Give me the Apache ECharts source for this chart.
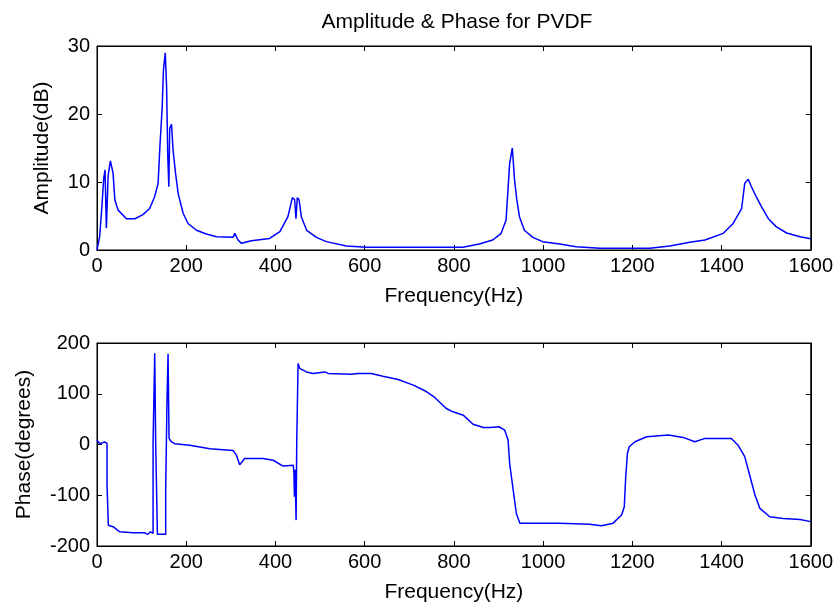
<!DOCTYPE html>
<html><head><meta charset="utf-8">
<script src="https://cdn.jsdelivr.net/npm/echarts@6/dist/echarts.min.js"></script>
<style>html,body{margin:0;padding:0;background:#fff}#c{width:836px;height:610px}</style>
</head><body><div id="c"></div>
<script>
const titleText = 'Amplitude & Phase for PVDF';
const xName = 'Frequency(Hz)';
const ampName = 'Amplitude(dB)';
const phaseName = 'Phase(degrees)';

const ampFreq = [0,6,11,15,18,21,25,30,36,40,47,66,85,103,118,129,137,141,146,149,153,156,158.5,161,163,167,170.5,176,182,193,204,223,245,268,305,309,316,324,346,387,410,428,438,443,446,449,453,458,470,492,514,559,604,708,820,857,887,906,917,925,931,936,941,947,958,977,999,1037,1074,1127,1239,1284,1329,1363,1404,1426,1445,1452,1460,1467,1478,1490,1505,1523,1546,1576,1600];
const amp = [0,2.0,6.4,10.5,11.8,3.2,11,13.1,11.3,7.4,5.9,4.6,4.6,5.2,6.1,7.8,9.8,15.2,20.8,26.5,29,24,14.2,9.3,17.9,18.5,14.7,11.3,8.3,5.4,3.9,2.9,2.35,1.96,1.86,2.45,1.47,0.98,1.37,1.7,2.7,4.9,7.7,7.4,4.6,7.7,7.4,4.9,2.9,1.86,1.23,0.59,0.39,0.39,0.39,0.88,1.47,2.45,4.4,12.7,15,10.3,7.4,4.9,2.9,1.86,1.23,0.88,0.49,0.25,0.25,0.59,1.13,1.47,2.45,3.9,6.1,9.8,10.4,9.3,7.8,6.3,4.6,3.4,2.5,1.96,1.67];

const phaseFreq = [0,2.3,6,17,19.5,22.5,22.5,25.5,25.5,36,51,81,107,114,120,125.7,125.7,129.4,129.4,131.6,131.6,135.4,135.4,154,154,157,157,159.3,159.3,161.5,161.5,167,174,208,253,305,312.5,320,331,372,395,417,440,441.5,442.6,444,446.3,447.8,450.8,454.5,469.5,484.5,511,518,570,585,615,641,675,709,735,757,783,798,821,843,866,881,901,914,921.5,925,933,940,948,1037,1104,1131,1157,1176,1182,1185,1189,1193,1206,1232,1281,1314,1340,1363,1422,1437,1452,1464,1475,1486,1508,1538,1576,1600];
const phase = [8.7,12,1.6,5,8.7,2,-80,-83,-159,-162,-172,-174,-174,-177,-172,-175,2,2,180,180,0,0,-177,-177,-86,-86,91,94,179,179,12,5,1.6,-1.7,-8.3,-11.6,-21,-40,-27.5,-27.5,-31,-42.6,-41,-57,-103,-50,-149,8.7,159.5,150,143,140,143,140,138.6,140,140,134.6,128,117,106,92.7,71,64.4,57.8,40,33.6,33.6,35,28.3,8.7,-37,-90,-136,-155,-155,-157,-160,-155,-139,-122.5,-67,-17.6,-4.5,5.4,15.2,18.5,14,5.4,12,12,-1.3,-24,-63.5,-99.6,-126,-142.3,-145.6,-147.6,-152];

const xTicks = [0,200,400,600,800,1000,1200,1400,1600];
const ampTicks = [0,10,20,30];
const phaseTicks = [-200,-100,0,100,200];

const font = 'Liberation Sans, Arial, sans-serif';
const zip = (a,b) => a.map((v,i)=>[v,b[i]]);

const lineStyleAx = {color:'#000', width:1};
function xAx(gi, show){
  return {type:'value', gridIndex:gi, min:xTicks[0], max:xTicks[xTicks.length-1], interval:xTicks[1]-xTicks[0],
    position: show ? 'bottom' : 'top',
    axisLine:{show:true, onZero:false, lineStyle:lineStyleAx},
    axisTick:{show:true, inside:true, length:5, lineStyle:lineStyleAx},
    axisLabel:{show:show, color:'#000', fontFamily:font, fontSize:20, margin:6, formatter:v=>String(v)},
    splitLine:{show:false},
    name: show ? xName : '', nameLocation:'middle', nameGap:36,
    nameTextStyle:{color:'#000', fontFamily:font, fontSize:21}};
}
function yAx(gi, ticks, show, name, gap){
  return {type:'value', gridIndex:gi, min:ticks[0], max:ticks[ticks.length-1], interval:ticks[1]-ticks[0],
    position: show ? 'left' : 'right',
    axisLine:{show:true, onZero:false, lineStyle:lineStyleAx},
    axisTick:{show:true, inside:true, length:5, lineStyle:lineStyleAx},
    axisLabel:{show:show, color:'#000', fontFamily:font, fontSize:20, margin:7, formatter:v=>String(v)},
    splitLine:{show:false},
    name: show ? name : '', nameLocation:'middle', nameGap:gap,
    nameTextStyle:{color:'#000', fontFamily:font, fontSize:21}};
}

const chart = echarts.init(document.getElementById('c'), null, {renderer:'canvas'});
chart.setOption({
  animation:false,
  backgroundColor:'#fff',
  title:{text:titleText, left:452, top:7, textAlign:'center',
    textStyle:{color:'#000', fontFamily:font, fontSize:21, fontWeight:'normal'}},
  grid:[
    {left:97, top:46, width:714, height:204, show:true, borderColor:'#000', borderWidth:1, backgroundColor:'#fff'},
    {left:97, top:343, width:714, height:203, show:true, borderColor:'#000', borderWidth:1, backgroundColor:'#fff'}
  ],
  xAxis:[xAx(0,true), xAx(0,false), xAx(1,true), xAx(1,false)],
  yAxis:[yAx(0,ampTicks,true,ampName,44), yAx(0,ampTicks,false,'',0),
         yAx(1,phaseTicks,true,phaseName,62), yAx(1,phaseTicks,false,'',0)],
  series:[
    {type:'line', xAxisIndex:0, yAxisIndex:0, data:zip(ampFreq,amp), showSymbol:false, symbol:'none',
      lineStyle:{color:'#0000ff', width:1.5}},
    {type:'line', xAxisIndex:2, yAxisIndex:2, data:zip(phaseFreq,phase), showSymbol:false, symbol:'none',
      lineStyle:{color:'#0000ff', width:1.5}}
  ]
});
</script></body></html>
